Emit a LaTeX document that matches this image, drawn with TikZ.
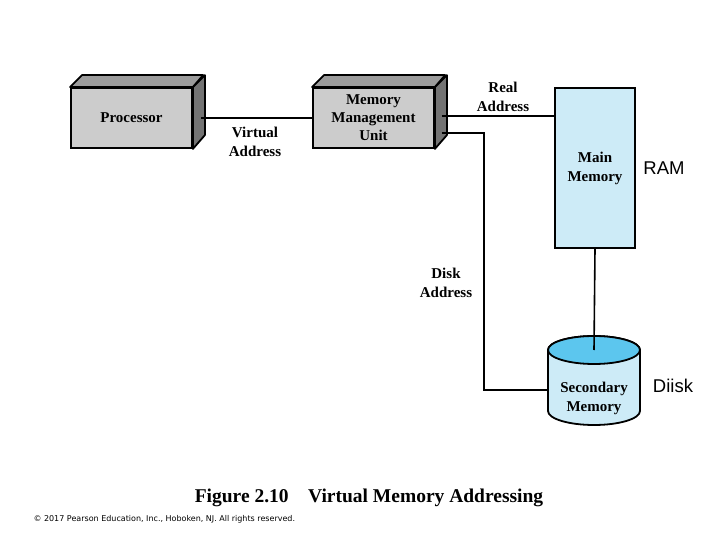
\documentclass[tikz,border=0pt]{standalone}
\usepackage{fontspec}
\setmainfont{Liberation Serif}
\newfontfamily\arialf{Liberation Sans}
\newfontfamily\smallsans{DejaVu Sans}
\usetikzlibrary{calc}
\definecolor{frontgray}{HTML}{CCCCCC}
\definecolor{topgray}{HTML}{9C9C9C}
\definecolor{sidegray}{HTML}{737373}
\definecolor{memblue}{HTML}{CDEBF7}
\definecolor{diskblue}{HTML}{5CC6EE}
\begin{document}
\begin{tikzpicture}[x=1pt,y=-1pt,
  boxfront/.style={draw,line width=1.8pt,fill=frontgray,minimum width=121pt,minimum height=60pt,inner sep=0pt,align=center,font=\fontsize{15}{18}\selectfont\bfseries},
  topface/.style={draw,line width=1.8pt,fill=topgray,line join=round},
  sideface/.style={draw,line width=1.8pt,fill=sidegray,line join=round},
  lbl/.style={align=center,font=\fontsize{15}{19}\selectfont\bfseries},
  conn/.style={line width=1.6pt},
  side/.style={font=\arialf\fontsize{18.5}{20}\selectfont}]
\useasboundingbox (0,0) rectangle (720,540);
% Processor
\node[boxfront] (proc) at (131.5,118) {Processor};
\draw[topface] (proc.north west) -- ++(12,-12) -- ++(121,0) -- (proc.north east) -- cycle;
\draw[sideface] (proc.north east) -- ++(12,-12) -- ++(0,60) -- (proc.south east) -- cycle;
% MMU
\node[boxfront] (mmu) at (373.5,118) {Memory\\Management\\Unit};
\draw[topface] (mmu.north west) -- ++(12,-12) -- ++(121,0) -- (mmu.north east) -- cycle;
\draw[sideface] (mmu.north east) -- ++(12,-12) -- ++(0,60) -- (mmu.south east) -- cycle;
% Main memory
\node[draw,line width=1.8pt,fill=memblue,minimum width=80pt,minimum height=160pt,inner sep=0pt,align=center,font=\fontsize{15}{19}\selectfont\bfseries] (main) at (595,168) {Main\\Memory};
% Secondary memory cylinder
\draw[line width=1.8pt,fill=memblue] (548,350) -- (548,411) arc[start angle=180,end angle=0,x radius=46,y radius=14] -- (640,350) arc[start angle=0,end angle=-180,x radius=46,y radius=14] -- cycle;
\draw[line width=1.8pt,fill=diskblue] (594,350) ellipse[x radius=46,y radius=14];
\node[lbl] (sec) at (594,398) {Secondary\\Memory};
\coordinate (sectop) at (594,350);
\coordinate (secw) at (548,390);
% connectors
\draw[conn] ($(proc.east)+(8,0)$) -- (mmu.west);
\coordinate (r1) at ($(mmu.east)+(7,-2)$);
\draw[conn] (r1) -- (r1 -| main.west);
\coordinate (d1) at ($(mmu.east)+(7,15)$);
\coordinate (dk) at (484,133);
\draw[conn] (d1) -- (dk) |- (secw);
\draw[conn] (main.south) -- (sectop);
% labels
\node[lbl] (va) at (255,142) {Virtual\\Address};
\node[lbl] (ra) at (503,97) {Real\\Address};
\node[lbl] (da) at (446,283) {Disk\\Address};
\node[side] (ram) at (664,168) {RAM};
\node[side] (diisk) at (673,386) {Diisk};
% caption
\node[font=\fontsize{19.5}{22}\selectfont\bfseries] (cap) at (369,498) {Figure 2.10\hspace{1em}Virtual Memory Addressing};
\node[font=\smallsans\fontsize{8}{9}\selectfont,anchor=west] (copy) at (30,519) {\textcopyright{} 2017 Pearson Education, Inc., Hoboken, NJ. All rights reserved.};
\end{tikzpicture}
\end{document}
